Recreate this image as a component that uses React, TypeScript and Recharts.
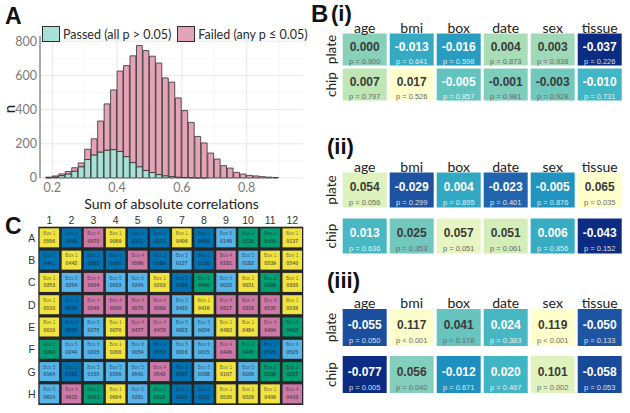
import { Bar, BarChart, CartesianGrid, Legend, Scatter, ScatterChart, XAxis, YAxis } from 'recharts';

// ---------- A: histogram ----------
const BIN_CENTERS = [0.19, 0.21, 0.23, 0.25, 0.27, 0.29, 0.31, 0.33, 0.35, 0.37, 0.39, 0.41, 0.43, 0.45, 0.47, 0.49, 0.51, 0.53, 0.55, 0.57, 0.59, 0.61, 0.63, 0.65, 0.67, 0.69, 0.71, 0.73, 0.75, 0.77, 0.79, 0.81, 0.83, 0.85, 0.87, 0.89];
const N_TOTAL = [5, 12, 24, 38, 60, 88, 168, 229, 333, 433, 515, 625, 657, 714, 774, 745, 712, 672, 585, 560, 468, 394, 325, 243, 205, 146, 111, 72, 58, 33, 23, 15, 12, 8, 5, 3];
const N_PASSED = [2, 6, 14, 24, 40, 66, 108, 135, 152, 163, 166, 155, 125, 90, 66, 44, 32, 20, 13, 8, 5, 3, 2, 1, 1, 0, 0, 0, 0, 0, 0, 0, 0, 0, 0, 0];

const X_MAJOR = [0.2, 0.4, 0.6, 0.8];
const X_MINOR = [0.3, 0.5, 0.7, 0.9];
const Y_MAJOR = [0, 200, 400, 600, 800];
const Y_MINOR = [100, 300, 500, 700];

// ---------- B: correlation tiles ----------
const VARS = ['age', 'bmi', 'box', 'date', 'sex', 'tissue'];
const SOURCES = ['plate', 'chip'];

const R1_PLATE = [0.0, -0.013, -0.016, 0.004, 0.003, -0.037];
const R1_CHIP = [0.007, 0.017, -0.005, -0.001, -0.003, -0.01];
const P1_PLATE = ['0.900', '0.641', '0.598', '0.873', '0.938', '0.226'];
const P1_CHIP = ['0.797', '0.526', '0.857', '0.981', '0.928', '0.731'];

const R2_PLATE = [0.054, -0.029, 0.004, -0.023, -0.005, 0.065];
const R2_CHIP = [0.013, 0.025, 0.057, 0.051, 0.006, -0.043];
const P2_PLATE = ['0.056', '0.299', '0.895', '0.401', '0.876', '0.035'];
const P2_CHIP = ['0.636', '0.353', '0.051', '0.061', '0.856', '0.152'];

const R3_PLATE = [-0.055, 0.117, 0.041, 0.024, 0.119, -0.05];
const R3_CHIP = [-0.077, 0.056, -0.012, 0.02, 0.101, -0.058];
const P3_PLATE = ['0.050', '< 0.001', '0.178', '0.383', '< 0.001', '0.133'];
const P3_CHIP = ['0.005', '0.040', '0.671', '0.467', '0.002', '0.053'];

// ---------- C: plate map ----------
const PLATE_ROWS = ['A', 'B', 'C', 'D', 'E', 'F', 'G', 'H'];
const PLATE_COLS = ['1', '2', '3', '4', '5', '6', '7', '8', '9', '10', '11', '12'];
const WELL_BOX = [
  [1, 3, 4, 1, 3, 3, 1, 3, 6, 2, 2, 1],
  [3, 1, 3, 3, 4, 3, 5, 3, 4, 5, 1, 1],
  [1, 5, 4, 5, 6, 1, 3, 2, 6, 1, 2, 1],
  [1, 3, 4, 4, 4, 4, 5, 1, 4, 4, 4, 1],
  [1, 3, 5, 1, 4, 4, 5, 5, 1, 1, 4, 2],
  [2, 5, 6, 1, 6, 3, 5, 6, 4, 2, 3, 6],
  [5, 3, 5, 5, 5, 4, 3, 6, 1, 5, 2, 2],
  [5, 4, 2, 1, 5, 2, 3, 3, 1, 1, 1, 4],
];
const WELL_ID = [
  ['0506', '0505', '0070', '0069', '0371', '0372', '0406', '0405', '0146', '0136', '0450', '0137'],
  ['0441', '0442', '0085', '0086', '0590', '0589', '0127', '0128', '0181', '0182', '0539', '0540'],
  ['0253', '0254', '0004', '0003', '0204', '0203', '0399', '0400', '0032', '0031', '0296', '0305'],
  ['0510', '0509', '0040', '0039', '0570', '0569', '0415', '0416', '0317', '0318', '0535', '0536'],
  ['0010', '0009', '0075', '0076', '0477', '0478', '0023', '0024', '0483', '0484', '0494', '0493'],
  ['0343', '0244', '0205', '0206', '0054', '0053', '0016', '0015', '0446', '0445', '0526', '0525'],
  ['0164', '0163', '0155', '0156', '0541', '0542', '0337', '0338', '0107', '0108', '0238', '0237'],
  ['0614', '0613', '0003', '0004', '0281', '0222', '0282', '0221', '0530', '0529', '0409', '0410'],
];

// ---------- styles ----------
const SANS = 'Lato, "Open Sans", sans-serif';
const ARIAL = '"Liberation Sans", Arial, sans-serif';
const TEAL = '#a7e1d7';
const PINK = '#e5a3b7';
const OUTLINE = '#2e2e2e';
const YLGNBU = ['#ffffcc', '#c7e9b4', '#7fcdbb', '#41b6c4', '#1d91c0', '#225ea8', '#0c2c84'];
const BOX_FILL: Record<number, string> = { 1: '#f0e442', 2: '#009e73', 3: '#0072b2', 4: '#cc79a7', 5: '#56b4e9', 6: '#56b4e9' };

function hex(h: string) {
  return [1, 3, 5].map((i) => parseInt(h.slice(i, i + 2), 16));
}

function ylgnbu(t: number) {
  const s = Math.max(0, Math.min(1, t)) * (YLGNBU.length - 1);
  const i = Math.min(Math.floor(s), YLGNBU.length - 2);
  const f = s - i;
  const a = hex(YLGNBU[i]);
  const b = hex(YLGNBU[i + 1]);
  const c = a.map((v, k) => Math.round(v + (b[k] - v) * f));
  return `rgb(${c[0]},${c[1]},${c[2]})`;
}

// ---------- panel A ----------
const A_W = 315;
const A_H = 214;
const A_MARGIN = { top: 36, right: 12, bottom: 0, left: 0 };
const A_YAXIS_W = 40;
const A_XAXIS_H = 36;
const X_DOMAIN: [number, number] = [0.162, 0.974];
const BIN_WIDTH = 0.02;
const A_PLOT_W = A_W - A_MARGIN.left - A_MARGIN.right - A_YAXIS_W;
const BAR_PX = (A_PLOT_W * BIN_WIDTH) / (X_DOMAIN[1] - X_DOMAIN[0]);

const histData = BIN_CENTERS.map((x, i) => ({ x, passed: N_PASSED[i], failed: N_TOTAL[i] - N_PASSED[i] }));

function HistLegend({ payload }: any) {
  const items = [...(payload ?? [])].sort((a: any, b: any) => (a.dataKey === 'passed' ? -1 : 0) - (b.dataKey === 'passed' ? -1 : 0));
  return (
    <div style={{ display: 'flex', alignItems: 'center', fontFamily: SANS, fontSize: 12.5, color: '#2a2a2a', whiteSpace: 'nowrap' }}>
      {items.map((e: any) => (
        <div key={e.value} style={{ display: 'flex', alignItems: 'center', marginRight: 6 }}>
          <div style={{ width: 18, height: 16, boxSizing: 'border-box', background: e.payload?.fill ?? e.color, border: `1px solid ${OUTLINE}`, marginRight: 3 }} />
          <span>{e.value}</span>
        </div>
      ))}
    </div>
  );
}

function HistogramPanel() {
  return (
    <div style={{ position: 'absolute', left: 0, top: 0, width: A_W, height: A_H }}>
      <BarChart width={A_W} height={A_H} data={histData} margin={A_MARGIN} barGap={0} barCategoryGap={0}>
        <CartesianGrid horizontalValues={Y_MINOR} verticalValues={X_MINOR} stroke="#f2f2f2" strokeWidth={0.6} />
        <CartesianGrid horizontalValues={Y_MAJOR} verticalValues={X_MAJOR} stroke="#e4e4e4" strokeWidth={0.9} />
        <XAxis
          type="number"
          dataKey="x"
          domain={X_DOMAIN}
          ticks={X_MAJOR}
          allowDataOverflow
          height={A_XAXIS_H}
          axisLine={false}
          tickLine={false}
          tickSize={3}
          tick={{ fill: '#7a7a7a', fontSize: 12.5, fontFamily: SANS }}
          label={{
            content: ({ viewBox }: any) => (
              <text x={viewBox.x + viewBox.width / 2} y={viewBox.y + 30.5} textAnchor="middle" fontFamily={SANS} fontSize={14} fill="#222">
                Sum of absolute correlations
              </text>
            ),
          }}
        />
        <YAxis
          type="number"
          domain={[0, 830]}
          ticks={Y_MAJOR}
          width={A_YAXIS_W}
          tickLine={false}
          tickSize={0}
          tickMargin={3}
          axisLine={{ stroke: '#555', strokeWidth: 1 }}
          tick={{ fill: '#7a7a7a', fontSize: 12.5, fontFamily: SANS }}
          label={{
            content: ({ viewBox }: any) => {
              const x = viewBox.x + 9;
              const y = viewBox.y + viewBox.height / 2 + 2;
              return (
                <text x={x} y={y} transform={`rotate(-90, ${x}, ${y})`} textAnchor="middle" dominantBaseline="central" fontFamily={SANS} fontSize={15} fill="#222">
                  n
                </text>
              );
            },
          }}
        />
        <Legend layout="horizontal" verticalAlign="middle" align="center" wrapperStyle={{ top: 26, left: 42, width: 280 }} content={<HistLegend />} />
        <Bar dataKey="passed" name="Passed (all p > 0.05)" stackId="n" fill={TEAL} stroke={OUTLINE} strokeWidth={0.8} barSize={BAR_PX} isAnimationActive={false} />
        <Bar dataKey="failed" name="Failed (any p ≤ 0.05)" stackId="n" fill={PINK} stroke={OUTLINE} strokeWidth={0.8} barSize={BAR_PX} isAnimationActive={false} />
      </BarChart>
    </div>
  );
}

// ---------- panel B ----------
const B_LEFT = 320;
const B_W = 310;
const B_PLOT_LEFT = 21.2;
const B_RIGHT = 6.8;
const HEAD_H = 20;
const CELL_W = 44;

function HeatCell(props: any) {
  const { cx, cy, payload, lo, hi, cellH } = props;
  const t = (hi - payload.r) / (hi - lo);
  const dark = t >= 0.4;
  const pText = payload.p.startsWith('<') ? `p ${payload.p}` : `p = ${payload.p}`;
  return (
    <g>
      <rect x={cx - CELL_W / 2} y={cy - cellH / 2} width={CELL_W} height={cellH} fill={ylgnbu(t)} />
      <text x={cx} y={cy - 0.08 * cellH} textAnchor="middle" dominantBaseline="central" fontFamily={ARIAL} fontWeight={700} fontSize={12} fill={dark ? '#ffffff' : '#3a3a3a'}>
        {payload.r.toFixed(3)}
      </text>
      <text x={cx} y={cy + 0.36 * cellH} textAnchor="middle" dominantBaseline="central" fontFamily={ARIAL} fontSize={7.5} fill={dark ? 'rgba(255,255,255,0.85)' : '#6a6a6a'}>
        {pText}
      </text>
    </g>
  );
}

function HeatPanel({ r, p, cellTop, band, cellH }: { r: number[][]; p: string[][]; cellTop: number; band: number; cellH: number }) {
  const data = SOURCES.flatMap((src, si) => VARS.map((v, vi) => ({ v, src, r: r[si][vi], p: p[si][vi] })));
  const vals = data.map((d) => d.r);
  const lo = Math.min(...vals);
  const hi = Math.max(...vals);
  const pad = (band - cellH) / 2;
  const plotTop = cellTop - pad;
  const top = plotTop - HEAD_H;
  const height = HEAD_H + band * SOURCES.length + 2;
  return (
    <div style={{ position: 'absolute', left: B_LEFT, top, width: B_W, height }}>
      <ScatterChart width={B_W} height={height} margin={{ top: 0, right: B_RIGHT, bottom: 2, left: 0 }}>
        <XAxis
          type="category"
          dataKey="v"
          orientation="top"
          allowDuplicatedCategory={false}
          height={HEAD_H}
          axisLine={false}
          tickLine={false}
          tickSize={0}
          tickMargin={0}
          interval={0}
          tick={(t: any) => (
            <text x={t.x} y={t.y + pad - 6.5} textAnchor="middle" dominantBaseline="central" fontFamily={SANS} fontSize={14} fill="#222">
              {t.payload.value}
            </text>
          )}
        />
        <YAxis
          type="category"
          dataKey="src"
          allowDuplicatedCategory={false}
          reversed
          width={B_PLOT_LEFT}
          axisLine={false}
          tickLine={false}
          tickSize={0}
          tickMargin={10.2}
          interval={0}
          tick={(t: any) => (
            <text x={t.x} y={t.y} transform={`rotate(-90, ${t.x}, ${t.y})`} textAnchor="middle" dominantBaseline="central" fontFamily={SANS} fontSize={13.5} fill="#222">
              {t.payload.value}
            </text>
          )}
        />
        <Scatter data={data} isAnimationActive={false} shape={(s: any) => <HeatCell {...s} lo={lo} hi={hi} cellH={cellH} />} />
      </ScatterChart>
    </div>
  );
}

// ---------- panel C ----------
const C_W = 315;
const C_H = 203;
const WELL_W = 19.5;
const WELL_H = 19;

const wellData = PLATE_ROWS.flatMap((row, ri) => PLATE_COLS.map((col, ci) => ({ row, col, box: WELL_BOX[ri][ci], id: WELL_ID[ri][ci] })));

function WellCell({ cx, cy, payload }: any) {
  return (
    <g>
      <rect x={cx - WELL_W / 2} y={cy - WELL_H / 2} width={WELL_W} height={WELL_H} fill={BOX_FILL[payload.box]} />
      <text x={cx} y={cy - 4.3} textAnchor="middle" dominantBaseline="central" fontFamily={ARIAL} fontSize={4.8} fill="#1e1e1e" fillOpacity={0.6}>
        {`Box ${payload.box}`}
      </text>
      <text x={cx} y={cy + 2.8} textAnchor="middle" dominantBaseline="central" fontFamily={ARIAL} fontSize={5.3} fontWeight={700} fill="#1e1e1e" fillOpacity={0.65}>
        {payload.id}
      </text>
    </g>
  );
}

function PlatePanel() {
  return (
    <div style={{ position: 'absolute', left: 0, top: 210, width: C_W, height: C_H }}>
      <ScatterChart width={C_W} height={C_H} margin={{ top: 0, right: 11.7, bottom: 8, left: 0 }}>
        <CartesianGrid fill="#262626" horizontal={false} vertical={false} />
        <XAxis
          type="category"
          dataKey="col"
          orientation="top"
          allowDuplicatedCategory={false}
          height={16.7}
          axisLine={false}
          tickLine={false}
          tickSize={0}
          tickMargin={6.7}
          interval={0}
          tick={(t: any) => (
            <text x={t.x} y={t.y} textAnchor="middle" dominantBaseline="central" fontFamily={ARIAL} fontSize={10.5} fill="#333">
              {t.payload.value}
            </text>
          )}
        />
        <YAxis
          type="category"
          dataKey="row"
          allowDuplicatedCategory={false}
          reversed
          width={38.3}
          axisLine={false}
          tickLine={false}
          tickSize={0}
          tickMargin={6.6}
          interval={0}
          tick={(t: any) => (
            <text x={t.x} y={t.y} textAnchor="middle" dominantBaseline="central" fontFamily={ARIAL} fontSize={10.5} fill="#333">
              {t.payload.value}
            </text>
          )}
        />
        <Scatter data={wellData} isAnimationActive={false} shape={(s: any) => <WellCell {...s} />} />
      </ScatterChart>
    </div>
  );
}

function Tag({ text, left, top, size }: { text: string; left: number; top: number; size: number }) {
  return (
    <div style={{ position: 'absolute', left, top, fontFamily: ARIAL, fontWeight: 700, fontSize: size, lineHeight: `${size}px`, color: '#111', whiteSpace: 'nowrap' }}>
      {text}
    </div>
  );
}

export default function App() {
  return (
    <div style={{ position: 'absolute', left: 0, top: 0, width: 630, height: 413, background: '#fff', overflow: 'hidden' }}>
      <HistogramPanel />
      <HeatPanel r={[R1_PLATE, R1_CHIP]} p={[P1_PLATE, P1_CHIP]} cellTop={33} band={35} cellH={32} />
      <HeatPanel r={[R2_PLATE, R2_CHIP]} p={[P2_PLATE, P2_CHIP]} cellTop={172} band={46} cellH={35} />
      <HeatPanel r={[R3_PLATE, R3_CHIP]} p={[P3_PLATE, P3_CHIP]} cellTop={309} band={47} cellH={37} />
      <PlatePanel />
      <Tag text="A" left={5} top={5} size={23} />
      <Tag text="B" left={311} top={2} size={24} />
      <Tag text="(i)" left={331} top={3} size={22} />
      <Tag text="(ii)" left={327} top={136} size={22} />
      <Tag text="(iii)" left={327} top={270} size={22} />
      <Tag text="C" left={5} top={215} size={23} />
    </div>
  );
}
